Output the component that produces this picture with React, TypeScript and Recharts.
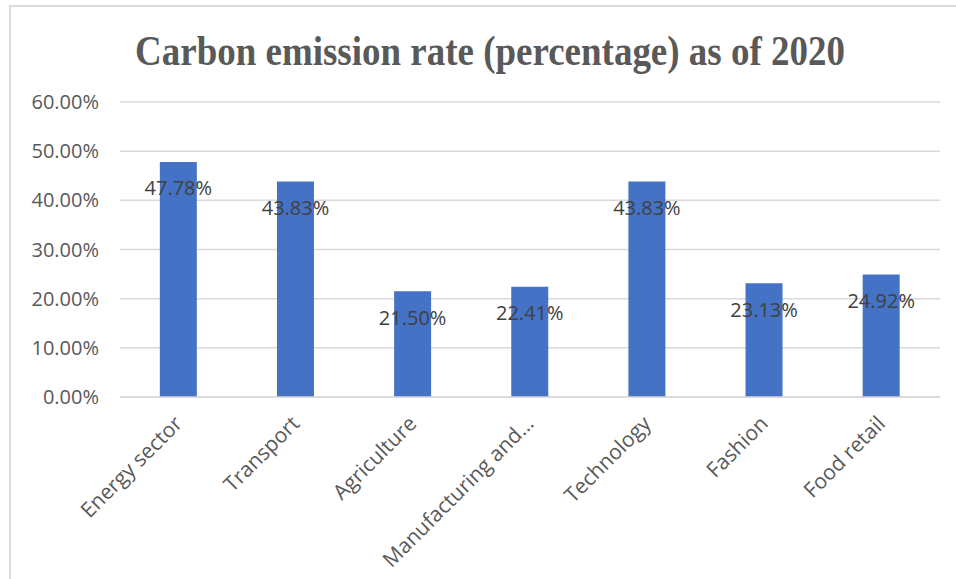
import React from "react"
import { BarChart, Bar, XAxis, YAxis, CartesianGrid, LabelList } from "recharts"

const categories = [
  "Energy sector",
  "Transport",
  "Agriculture",
  "Manufacturing and construction",
  "Technology",
  "Fashion",
  "Food retail",
]
const emissionRates = [47.78, 43.83, 21.5, 22.41, 43.83, 23.13, 24.92]
const yTicks = [0, 10, 20, 30, 40, 50, 60]

const data = categories.map((name, i) => ({ name, rate: emissionRates[i] }))

const FONT = "'Open Sans', 'Noto Sans', sans-serif"
const pct = (v: number) => `${v.toFixed(2)}%`

const shortName = (s: string) => (s.length > 18 ? s.slice(0, 17) + "…" : s)

function XTick(props: any) {
  const { x, y, payload } = props
  return (
    <g transform={`translate(${x + 1},${y + 16})`}>
      <text
        transform="rotate(-45)"
        textAnchor="end"
        dominantBaseline="middle"
        fill="#595959"
        fontSize={21}
        fontFamily={FONT}
      >
        {shortName(payload.value)}
      </text>
    </g>
  )
}

function BarLabel(props: any) {
  const { x, y, width, value } = props
  return (
    <text
      x={x + width / 2}
      y={y + 28}
      textAnchor="middle"
      dominantBaseline="middle"
      fill="#404040"
      fontSize={20}
      fontFamily={FONT}
    >
      {pct(value)}
    </text>
  )
}

export default function App() {
  return (
    <div style={{ position: "absolute", left: 0, top: 0, width: 956, height: 579, overflow: "hidden", background: "#fff" }}>
      <div
        style={{
          position: "absolute",
          left: 9,
          top: 5,
          width: 960,
          height: 590,
          borderLeft: "2px solid #d9d9d9",
          borderTop: "2px solid #d9d9d9",
        }}
      />
      <div style={{ position: "absolute", left: 0, top: 0 }}>
        <BarChart
          width={956}
          height={579}
          data={data}
          margin={{ top: 102, right: 16, bottom: 0, left: 0 }}
          barCategoryGap="34%"
        >
          <text
            x={490}
            y={65}
            textAnchor="middle"
            transform="translate(490,0) scale(0.86,1) translate(-490,0)"
            fill="#595959"
            fontSize={43}
            fontWeight="bold"
            fontFamily="'Liberation Serif', 'Times New Roman', serif"
          >
            Carbon emission rate (percentage) as of 2020
          </text>
          <CartesianGrid vertical={false} stroke="#d9d9d9" strokeWidth={1.5} />
          <XAxis
            dataKey="name"
            interval={0}
            tickLine={false}
            axisLine={{ stroke: "#d9d9d9", strokeWidth: 1.5 }}
            tick={<XTick />}
            height={182}
          />
          <YAxis
            width={120}
            domain={[0, 60]}
            ticks={yTicks}
            tickFormatter={pct}
            tickLine={false}
            axisLine={false}
            tickMargin={15}
            tick={{ fill: "#595959", fontSize: 20, fontFamily: FONT }}
          />
          <Bar dataKey="rate" fill="#4472C4" isAnimationActive={false}>
            <LabelList dataKey="rate" content={<BarLabel />} />
          </Bar>
        </BarChart>
      </div>
    </div>
  )
}
